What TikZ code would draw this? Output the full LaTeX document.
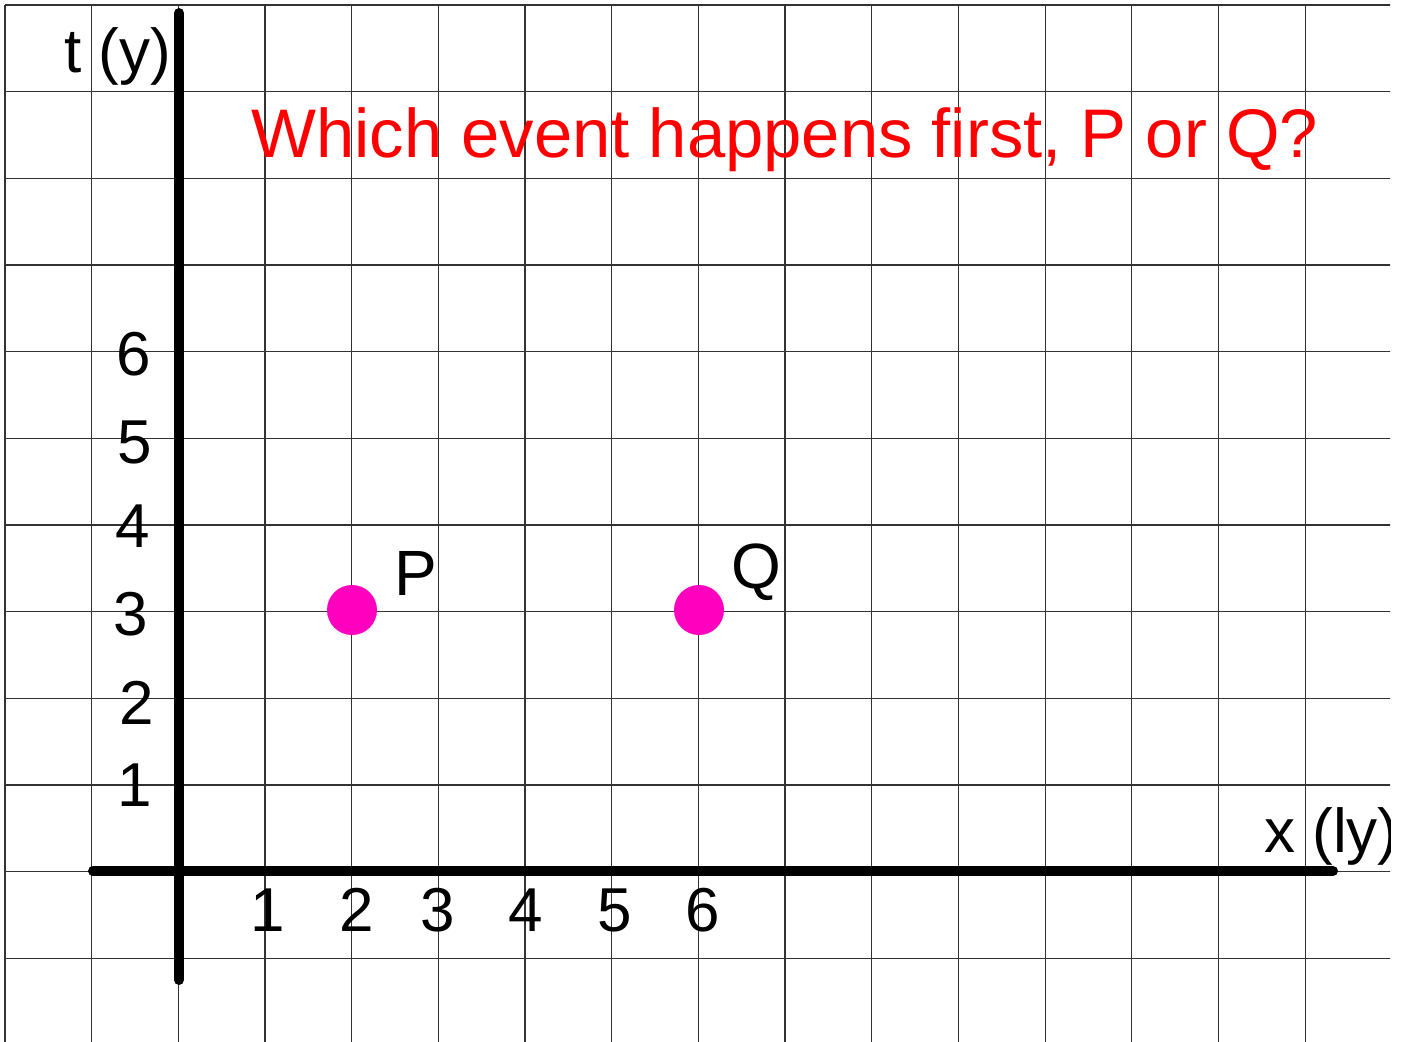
\documentclass[tikz,border=0pt]{standalone}
\usepackage{fontspec}
\setmainfont{Liberation Sans}
\definecolor{dotmag}{RGB}{255,0,190}
\definecolor{titlered}{RGB}{255,0,0}
\begin{document}
\begin{tikzpicture}[x=1pt,y=-1pt,
  gridline/.style={draw=black!80,line width=1.1pt},
  axisline/.style={draw=black,line width=10pt,line cap=round},
  axlabel/.style={inner sep=0pt,font=\fontsize{62}{70}\selectfont,text=black},
  ticklabel/.style={inner sep=0pt,anchor=base,font=\fontsize{62}{70}\selectfont,text=black},
  ptlabel/.style={inner sep=0pt,anchor=base west,font=\fontsize{64}{72}\selectfont,text=black},
  eventdot/.style={circle,fill=dotmag,draw=none,minimum size=50pt,inner sep=0pt},
  titletext/.style={inner sep=0pt,anchor=base west,font=\fontsize{68.8}{80}\selectfont,text=titlered}]
\useasboundingbox[fill=white] (0,0) rectangle (1404,1041);
% grid
\begin{scope}
\clip (4,4) rectangle (1390,1041);
\foreach \i in {0,...,16} {
  \draw[gridline] ({5+86.67*\i},5) -- ({5+86.67*\i},1045);
}
\foreach \j in {0,...,12} {
  \draw[gridline] (5,{5+86.67*\j}) -- (1395,{5+86.67*\j});
}
\end{scope}
% axes
\coordinate (ytop) at (179,13);
\coordinate (ybot) at (179,980);
\coordinate (xleft) at (93,871);
\coordinate (xright) at (1333,871);
\draw[axisline] (ybot) -- (ytop);
\draw[axisline] (xleft) -- (xright);
% axis labels
\node[axlabel,anchor=base west] (tlab) at (64,73) {t (y)};
\begin{scope}
\clip (1200,780) rectangle (1390,900);
\node[axlabel,anchor=base west] (xlab) at (1264,852) {x (ly)};
\end{scope}
% title
\node[titletext] (title) at (251,157) {Which event happens first, P or Q?};
% x tick labels
\node[ticklabel] (x1) at (268,931) {1};
\node[ticklabel] (x2) at (357,931) {2};
\node[ticklabel] (x3) at (438,931) {3};
\node[ticklabel] (x4) at (526,931) {4};
\node[ticklabel] (x5) at (615,931) {5};
\node[ticklabel] (x6) at (703,931) {6};
% y tick labels
\node[ticklabel] (y6) at (134,375) {6};
\node[ticklabel] (y5) at (135,463) {5};
\node[ticklabel] (y4) at (133,547) {4};
\node[ticklabel] (y3) at (131,635) {3};
\node[ticklabel] (y2) at (137,724) {2};
\node[ticklabel] (y1) at (135,806) {1};
% events
\node[eventdot] (P) at (352,610) {};
\node[eventdot] (Q) at (699,610) {};
\node[ptlabel] (Plab) at (394,595) {P};
\node[ptlabel] (Qlab) at (731,588) {Q};
\end{tikzpicture}
\end{document}
